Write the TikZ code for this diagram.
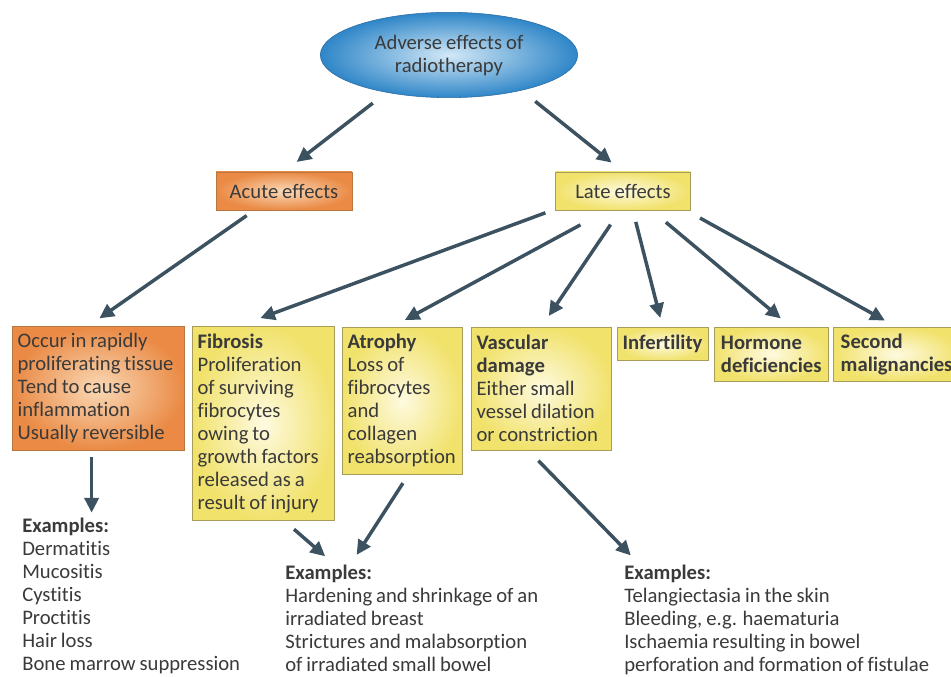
\documentclass[tikz,border=0pt]{standalone}
\usepackage{fontspec}
\setmainfont{Carlito}[Ligatures={NoCommon}, WordSpace=0.85]
\usetikzlibrary{shapes.geometric,arrows.meta,positioning,calc}

\definecolor{arrowgrey}{HTML}{3C5260}
\definecolor{textgrey}{HTML}{3A3A3A}
\definecolor{blueedge}{HTML}{2F86C8}
\definecolor{bluecore}{HTML}{D2E8F6}
\definecolor{blueline}{HTML}{2A6AA0}
\definecolor{orangeedge}{HTML}{EA8A45}
\definecolor{orangecore}{HTML}{FAD9B6}
\definecolor{orangeline}{HTML}{B7773F}
\definecolor{yellowedge}{HTML}{F1E26C}
\definecolor{yellowcore}{HTML}{FEFAE0}
\definecolor{yellowline}{HTML}{A89C5A}

\begin{document}
\begin{tikzpicture}[x=0.75pt, y=-0.75pt,
    every node/.style={font=\fontsize{15.5}{17.25}\selectfont, text=textgrey},
    arr/.style={draw=arrowgrey, line width=2.6pt, -{Triangle[length=11pt,width=10.5pt]}},
    acutebox/.style={draw=orangeline, inner color=orangecore, outer color=orangeedge},
    latebox/.style={draw=yellowline, inner color=yellowcore, outer color=yellowedge},
    effectbox/.style={latebox, anchor=north west, align=flush left, inner xsep=4pt, inner ysep=3pt},
    examples/.style={anchor=north west, align=left, inner sep=0pt}]
    \useasboundingbox (0,0) rectangle (951,677);

    % top of the tree
    \node[ellipse, draw=blueline, inner color=bluecore, outer color=blueedge,
          minimum width=193pt, minimum height=64pt, align=center, inner sep=0pt]
          (adverse) at (449,55) {Adverse effects of\\radiotherapy};
    \node[acutebox, minimum width=102pt, minimum height=28.5pt] (acute) at (284,191) {Acute effects};
    \node[latebox, minimum width=101pt, minimum height=28.5pt] (late) at (623,191) {Late effects};

    % acute branch
    \node[acutebox, anchor=north west, align=flush left, inner xsep=4pt, inner ysep=3pt,
          text width=121pt, minimum height=93pt] (occur) at (12,326)
          {Occur in rapidly\\proliferating tissue\\Tend to cause\\inflammation\\Usually reversible};

    % late branch
    \node[effectbox, text width=98.5pt, minimum height=145.5pt] (fibrosis) at (192,326)
          {\textbf{Fibrosis}\\Proliferation\\of surviving\\fibrocytes\\owing to\\growth factors\\released as a\\result of injury};
    \node[effectbox, text width=82pt, minimum height=110pt] (atrophy) at (342,327)
          {\textbf{Atrophy}\\Loss of\\fibrocytes\\and\\collagen\\reabsorption};
    \node[effectbox, text width=97pt, minimum height=92pt] (vascular) at (471,327)
          {\textbf{Vascular}\\\textbf{damage}\\Either small\\vessel dilation\\or constriction};
    \node[effectbox, align=left, minimum height=25pt, minimum width=68pt] (infertility) at (617,327) {\textbf{Infertility}};
    \node[effectbox, align=left, minimum height=40.5pt, minimum width=85.5pt] (hormone) at (714,327) {\textbf{Hormone}\\\textbf{deficiencies}};
    \node[effectbox, align=left, minimum height=40.5pt, minimum width=95pt] (second) at (833,327) {\textbf{Second}\\\textbf{malignancies}};

    % examples
    \node[examples] (exacute) at (22,518)
          {\textbf{Examples:}\\Dermatitis\\Mucositis\\Cystitis\\Proctitis\\Hair loss\\Bone marrow suppression};
    \node[examples] (exfibro) at (285,565)
          {\textbf{Examples:}\\Hardening and shrinkage of an\\irradiated breast\\Strictures and malabsorption\\of irradiated small bowel};
    \node[examples] (exvasc) at (624,565)
          {\textbf{Examples:}\\Telangiectasia in the skin\\Bleeding, e.g. haematuria\\Ischaemia resulting in bowel\\perforation and formation of fistulae};

    % connectors
    \draw[arr, shorten <=13pt, shorten >=12pt] (adverse.211) -- (acute.north);
    \draw[arr, shorten <=13pt, shorten >=11pt] (adverse.334) -- (late.north);
    \draw[arr, shorten <=7pt, shorten >=10pt] (acute.213) -- (occur.99);
    \draw[arr, shorten <=8pt, shorten >=17pt] (late.195) -- (fibrosis.104);
    \draw[arr, shorten <=23pt, shorten >=11pt] (late.231) -- (atrophy.98);
    \draw[arr, shorten <=13pt, shorten >=10pt] (late.262) -- (vascular.north);
    \draw[arr, shorten <=9pt, shorten >=7pt] (late.297) -- (infertility.north);
    \draw[arr, shorten <=14pt, shorten >=10pt] (late.326) -- (hormone.54);
    \draw[arr, shorten <=12pt, shorten >=10pt] (late.343) -- (second.north);
    \draw[arr, shorten <=5pt, shorten >=4pt] ([xshift=-5pt]occur.south) -- ([xshift=-5pt]occur.south |- exacute.north);
    \draw[arr, shorten <=10pt, shorten >=10pt] (fibrosis.282) -- (exfibro.145);
    \draw[arr, shorten <=8pt, shorten >=9pt] (atrophy.275) -- (exfibro.139);
    \draw[arr, shorten <=11pt, shorten >=10pt] (vascular.258) -- (exvasc.158);
\end{tikzpicture}
\end{document}
